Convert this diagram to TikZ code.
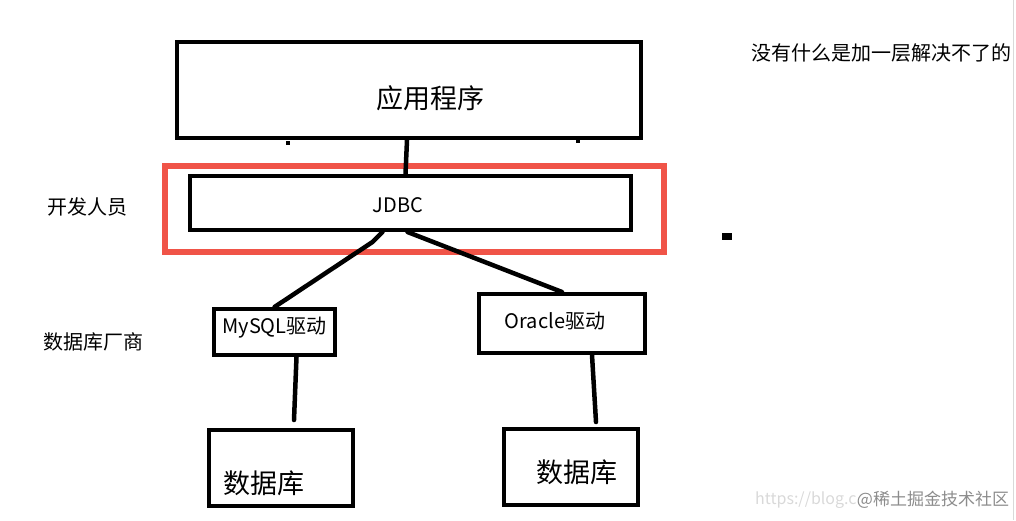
\documentclass[tikz,border=0pt]{standalone}
\usepackage{fontspec}
\setmainfont{Noto Sans CJK SC}
\definecolor{frameRed}{RGB}{240,84,72}
\begin{document}
\begin{tikzpicture}[x=1pt, y=-1pt,
		box/.style={draw, line width=4pt, inner sep=0pt},
		wire/.style={line width=4.5pt, line cap=round},
		note/.style={font=\fontsize{20}{24}\selectfont, inner sep=0pt},
		big/.style={font=\fontsize{27}{30}\selectfont, inner sep=0pt}]
	\useasboundingbox (0,0) rectangle (1016,520);
	% khung đỏ quanh tầng JDBC
	\node[draw=frameRed, line width=6pt, minimum width=499, minimum height=86] (devframe) at (414.5,209) {};
	% các hộp
	\node[box, minimum width=464, minimum height=96, label={[big, xshift=21, yshift=-8]center:应用程序}] (app) at (409,90) {};
	\node[box, minimum width=441, minimum height=54, label={[note, xshift=-12.5, yshift=-2]center:JDBC}] (jdbc) at (410.5,203) {};
	\node[box, minimum width=121, minimum height=46, label={[note, yshift=4]center:MySQL驱动}] (mysql) at (274.5,332) {};
	\node[box, minimum width=166, minimum height=59, label={[note, xshift=-7, yshift=2.5]center:Oracle驱动}] (oracle) at (562,323.5) {};
	\node[box, minimum width=144, minimum height=76, label={[big, xshift=-17, yshift=-15]center:数据库}] (dbA) at (281,468) {};
	\node[box, minimum width=134, minimum height=76, label={[big, xshift=6, yshift=-5]center:数据库}] (dbB) at (571,467) {};
	% đường nối
	\draw[wire] ([xshift=-2]app.south) -- ([xshift=-5]jdbc.north);
	\draw[wire] ([xshift=-28]jdbc.south) -- ++(-10,10) -- (mysql.north);
	\draw[wire] ([xshift=-3]jdbc.south) -- (oracle.north);
	\draw[wire] ([xshift=22]mysql.south) -- ([xshift=13,yshift=8]dbA.north);
	\draw[wire] ([xshift=30]oracle.south) -- ([xshift=25,yshift=5]dbB.north);
	% chữ bên cạnh
	\node[note] (devs) at (87,207) {开发人员};
	\node[note] (vendors) at (93,342) {数据库厂商};
	\node[note] (motto) at (881,53) {没有什么是加一层解决不了的};
	% vết nhỏ
	\fill (722,233) rectangle (732,240);
	\fill (286,141) rectangle (290,145);
	\fill (576,139) rectangle (580,143);
	\draw[black!15, line width=1pt] (1013,0) -- (1013,520);
	\node[font=\fontsize{17}{20}\selectfont, text=black!45, inner sep=0pt] (mark) at (933,500) {@稀土掘金技术社区};
	\node[font=\fontsize{16}{20}\selectfont, text=black!15, inner sep=0pt, anchor=east] (url) at (mark.west) {https://blog.c};
\end{tikzpicture}
\end{document}
